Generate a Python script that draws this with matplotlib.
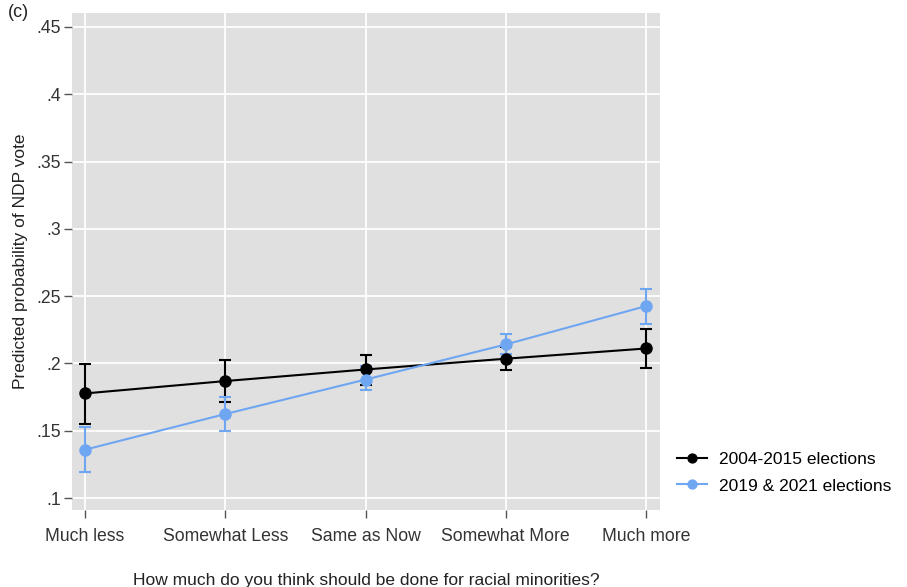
import matplotlib
matplotlib.use('Agg')
import matplotlib.pyplot as plt
import numpy as np

plt.rcParams['font.family'] = ['Liberation Sans', 'DejaVu Sans']

# 数据
categories = ['Much less', 'Somewhat Less', 'Same as Now', 'Somewhat More', 'Much more']
old_mean = [0.1777, 0.1869, 0.1955, 0.2035, 0.2111]
old_low = [0.1550, 0.1713, 0.1836, 0.1948, 0.1968]
old_high = [0.1997, 0.2027, 0.2060, 0.2120, 0.2255]
new_mean = [0.1359, 0.1624, 0.1880, 0.2141, 0.2426]
new_low = [0.1191, 0.1500, 0.1800, 0.2070, 0.2293]
new_high = [0.1525, 0.1747, 0.1978, 0.2218, 0.2552]
yticks = [0.1, 0.15, 0.2, 0.25, 0.3, 0.35, 0.4, 0.45]
ytick_labels = ['.1', '.15', '.2', '.25', '.3', '.35', '.4', '.45']

black = '#000000'
blue = '#6fa6f2'

fig = plt.figure(figsize=(9.07, 5.87), dpi=100)
ax = fig.add_axes([0.0794, 0.1312, 0.6483, 0.8467])
ax.set_facecolor('#e0e0e0')

x = np.arange(1, len(categories) + 1)

def draw(mean, low, high, color, label):
    mean = np.array(mean)
    err = [mean - np.array(low), np.array(high) - mean]
    ax.errorbar(x, mean, yerr=err, fmt='none', ecolor=color, elinewidth=1.5,
                capsize=4, capthick=1.5, zorder=3)
    ax.plot(x, mean, color=color, lw=1.5, marker='o', ms=8, label=label, zorder=4)

draw(old_mean, old_low, old_high, black, '2004-2015 elections')
draw(new_mean, new_low, new_high, blue, '2019 & 2021 elections')

ax.set_xlim(0.907, 5.1)
ax.set_ylim(0.0911, 0.4604)
ax.set_xticks(x)
ax.set_xticklabels(categories)
ax.set_yticks(yticks)
ax.set_yticklabels(ytick_labels)
ax.grid(True, color='white', lw=1.3)
ax.set_axisbelow(True)
for s in ax.spines.values():
    s.set_visible(False)
ax.tick_params(axis='both', colors='#555555', labelcolor='#333333', labelsize=12.7,
               length=6, width=1)
ax.tick_params(axis='x', pad=7)
ax.tick_params(axis='y', pad=2)

ax.set_ylabel('Predicted probability of NDP vote', fontsize=12.5, color='#222222', labelpad=6)
ax.set_xlabel('How much do you think should be done for racial minorities?',
              fontsize=12.5, color='#222222', labelpad=20)

fig.text(0.009, 0.978, '(c)', fontsize=13, color='#222222', va='center')

ax.legend(loc='center left', bbox_to_anchor=(1.0, 0.075), frameon=False,
          fontsize=12.5, handlelength=1.7, handletextpad=0.7, labelspacing=0.65,
          markerscale=0.8, borderaxespad=0.6)

fig.savefig('out.png', dpi=100)
